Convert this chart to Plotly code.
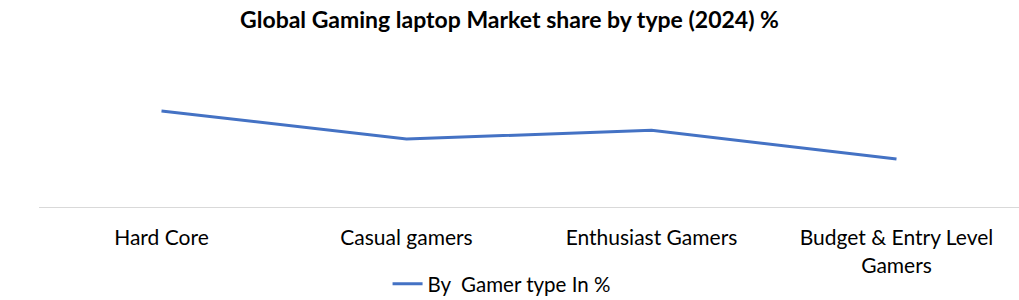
import plotly.graph_objects as go

categories = ["Hard Core", "Casual gamers", "Enthusiast Gamers", "Budget & Entry Level<br>Gamers"]
values = [40, 28.3, 32, 20]
series_name = "By\u00a0\u00a0Gamer type In %"
title = "Global Gaming laptop Market share by type (2024) %"

fig = go.Figure()
fig.add_trace(go.Scatter(
    x=categories, y=values, mode="lines", name=series_name,
    line=dict(color="#4472C4", width=3),
))

fig.update_layout(
    width=1019, height=300,
    margin=dict(l=39, r=0, t=45, b=93),
    paper_bgcolor="white", plot_bgcolor="white",
    font=dict(family="Lato, Carlito, sans-serif", color="#000000"),
    title=dict(text="<b>" + title + "</b>", x=0.5, xanchor="center",
               y=1 - 20 / 300, yanchor="middle", yref="container",
               font=dict(size=23, color="#000000")),
    showlegend=True,
    legend=dict(orientation="h", x=0.472, xanchor="center", xref="paper",
                y=16 / 300, yanchor="middle", yref="container",
                font=dict(size=20.5, color="#000000")),
)
fig.update_xaxes(
    type="category", range=[-0.5, 3.5], showgrid=False, showline=True, automargin=False,
    linecolor="#D9D9D9", linewidth=1, ticks="outside", ticklen=12, tickcolor="rgba(0,0,0,0)",
    tickfont=dict(size=21, color="#000000"), zeroline=False,
)
fig.update_yaxes(range=[0, 67.5], visible=False, showgrid=False, zeroline=False)

fig.write_html("out.html")
